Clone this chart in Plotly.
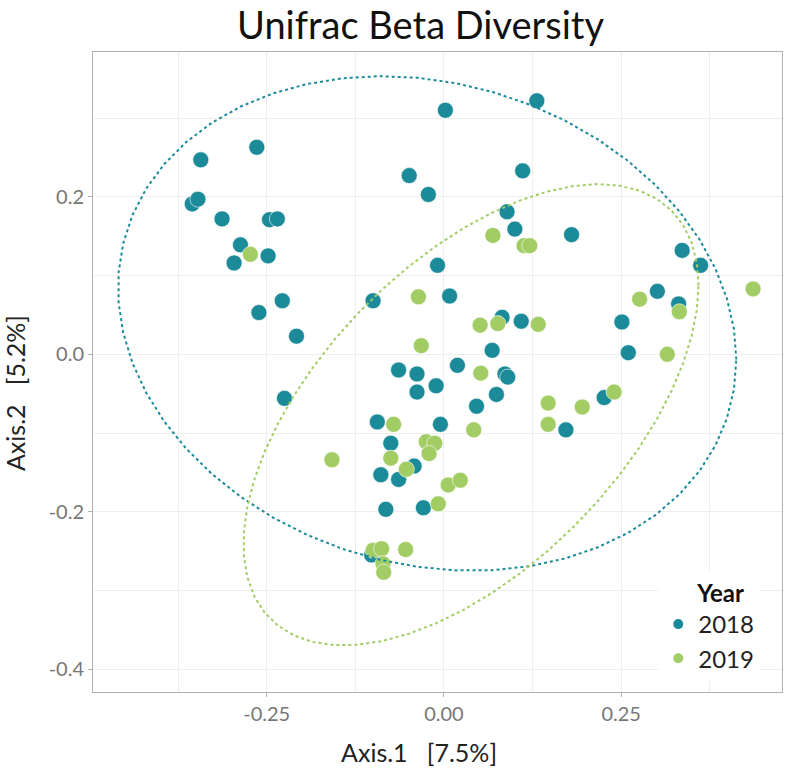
import numpy as np
import plotly.graph_objects as go

# ---- data ----
x_2018 = [-0.264, -0.343, -0.355, -0.347, -0.313, -0.246, -0.235, -0.287, -0.248, -0.296,
          0.131, 0.002, -0.049, -0.022, 0.111, 0.089, 0.100, -0.009, 0.180, 0.336,
          0.362, -0.228, -0.261, -0.208, -0.100, -0.225, -0.064, -0.038, -0.038, -0.094,
          -0.075, 0.008, 0.082, 0.109, 0.068, 0.019, 0.086, 0.090, -0.011, 0.074,
          0.046, 0.226, 0.251, 0.260, 0.301, 0.331, -0.005, 0.172, -0.042, -0.089,
          -0.064, -0.082, -0.029, -0.102]
y_2018 = [0.263, 0.247, 0.191, 0.197, 0.172, 0.171, 0.172, 0.139, 0.125, 0.116,
          0.322, 0.310, 0.227, 0.203, 0.233, 0.181, 0.159, 0.113, 0.152, 0.132,
          0.113, 0.068, 0.053, 0.023, 0.068, -0.056, -0.020, -0.025, -0.048, -0.086,
          -0.113, 0.074, 0.047, 0.042, 0.005, -0.014, -0.025, -0.029, -0.040, -0.051,
          -0.066, -0.055, 0.041, 0.002, 0.080, 0.064, -0.089, -0.096, -0.142, -0.153,
          -0.159, -0.197, -0.195, -0.255]

x_2019 = [-0.273, 0.069, 0.113, 0.121, -0.036, -0.032, -0.071, -0.158, -0.075, 0.051,
          0.076, 0.133, 0.052, 0.147, 0.195, 0.240, 0.276, 0.042, 0.147, -0.025,
          -0.013, -0.021, -0.053, 0.006, 0.023, -0.008, -0.054, -0.100, -0.088, -0.086,
          -0.085, 0.436, 0.332, 0.315]
y_2019 = [0.127, 0.151, 0.138, 0.138, 0.073, 0.011, -0.089, -0.134, -0.132, 0.037,
          0.039, 0.038, -0.024, -0.062, -0.067, -0.048, 0.070, -0.096, -0.089, -0.111,
          -0.113, -0.126, -0.146, -0.166, -0.160, -0.190, -0.248, -0.249, -0.247, -0.266,
          -0.277, 0.083, 0.054, 0.000]

years = ["2018", "2019"]
colors = {"2018": "#1b8b9a", "2019": "#a2cc64"}

x_ticks = [-0.25, 0.0, 0.25]
x_ticklabels = ["-0.25", "0.00", "0.25"]
y_ticks = [-0.4, -0.2, 0.0, 0.2]
y_ticklabels = ["-0.4", "-0.2", "0.0", "0.2"]


# ---- stat_ellipse (type "t"): robust t covariance, 95% level ----
def cov_trob(X, nu=5, maxit=25, tol=0.01):
    n, p = X.shape
    wt = np.ones(n)
    loc = X.mean(axis=0)
    w = np.sqrt(wt)
    Xc = X - loc
    for _ in range(maxit):
        w0 = w
        Xc = X - loc
        A = np.sqrt(w / w.sum())[:, None] * Xc
        _, d, Vt = np.linalg.svd(A, full_matrices=False)
        wX = Xc @ Vt.T @ np.diag(1.0 / d)
        Q = (wX ** 2).sum(axis=1)
        w = (wt * (nu + p)) / (nu + Q)
        loc = (w[:, None] * X).sum(axis=0) / w.sum()
        if np.all(np.abs(w - w0) < tol):
            break
    sw = np.sqrt(w)[:, None] * Xc
    cov = sw.T @ sw / wt.sum()
    return cov, loc


def ellipse(xs, ys, level=0.95, segments=51):
    X = np.column_stack([xs, ys])
    cov, center = cov_trob(X)
    dfd = X.shape[0] - 1
    fq = dfd / 2.0 * ((1 - level) ** (-2.0 / dfd) - 1)   # qf(level, 2, dfd)
    radius = np.sqrt(2 * fq)
    R = np.linalg.cholesky(cov).T
    ang = np.arange(segments + 1) * 2 * np.pi / segments
    circ = np.column_stack([np.cos(ang), np.sin(ang)])
    pts = center + radius * (circ @ R)
    return pts[:, 0], pts[:, 1]


FONT = "Lato"
fig = go.Figure()

data = {"2018": (x_2018, y_2018), "2019": (x_2019, y_2019)}
for yr in years:
    xs, ys = data[yr]
    fig.add_trace(go.Scatter(
        x=xs, y=ys, mode="markers", name=yr,
        marker=dict(size=16, color=colors[yr], line=dict(width=0.6, color="white")),
    ))
for yr in years:
    xs, ys = data[yr]
    ex, ey = ellipse(np.array(xs), np.array(ys))
    fig.add_trace(go.Scatter(
        x=ex, y=ey, mode="lines", showlegend=False, hoverinfo="skip",
        line=dict(color=colors[yr], width=2, dash="dot"),
    ))

grid = "#eeeeee"
axis_common = dict(
    showline=True, linecolor="#b0b0b0", linewidth=1, mirror=True,
    showgrid=True, gridcolor=grid, gridwidth=1, zeroline=False,
    ticks="outside", ticklen=4, tickcolor="#b0b0b0",
    tickfont=dict(family=FONT, size=20, color="#777777"),
)
fig.update_xaxes(range=[-0.495, 0.4768], tickvals=x_ticks, ticktext=x_ticklabels,
                 minor=dict(tickvals=[-0.375, -0.125, 0.125, 0.375], showgrid=True,
                            gridcolor=grid, ticks=""),
                 **axis_common)
fig.update_yaxes(range=[-0.429, 0.384], tickvals=y_ticks, ticktext=y_ticklabels,
                 minor=dict(tickvals=[-0.3, -0.1, 0.1, 0.3], showgrid=True,
                            gridcolor=grid, ticks=""),
                 **axis_common)

PW = 782.5 - 93
PH = 692 - 52
fig.update_layout(
    width=786, height=774,
    margin=dict(l=93, r=4, t=52, b=82),
    plot_bgcolor="white", paper_bgcolor="white",
    font=dict(family=FONT, color="#222222"),
    legend=dict(
        title=dict(text="&nbsp;&nbsp;&nbsp;&nbsp;&nbsp;&nbsp;<b>Year</b>",
                   font=dict(family=FONT, size=24, color="#111111")),
        font=dict(family=FONT, size=24, color="#222222"),
        x=0.967, y=0.0175, xanchor="right", yanchor="bottom",
        bgcolor="white", itemsizing="constant", tracegroupgap=0,
    ),
    annotations=[
        dict(text="Unifrac Beta Diversity", xref="paper", yref="paper",
             x=(421 - 93) / PW, y=(692 - 24) / PH,
             showarrow=False, xanchor="center", yanchor="middle",
             font=dict(family=FONT, size=38, color="#111111")),
        dict(text="Axis.1   [7.5%]", xref="paper", yref="paper",
             x=(419 - 93) / PW, y=(692 - 752) / PH,
             showarrow=False, xanchor="center", yanchor="middle",
             font=dict(family=FONT, size=25, color="#222222")),
        dict(text="Axis.2   [5.2%]", xref="paper", yref="paper",
             x=(15 - 93) / PW, y=(692 - 393) / PH,
             showarrow=False, xanchor="center", yanchor="middle", textangle=-90,
             font=dict(family=FONT, size=25, color="#222222")),
    ],
)

fig.write_html("out.html")
